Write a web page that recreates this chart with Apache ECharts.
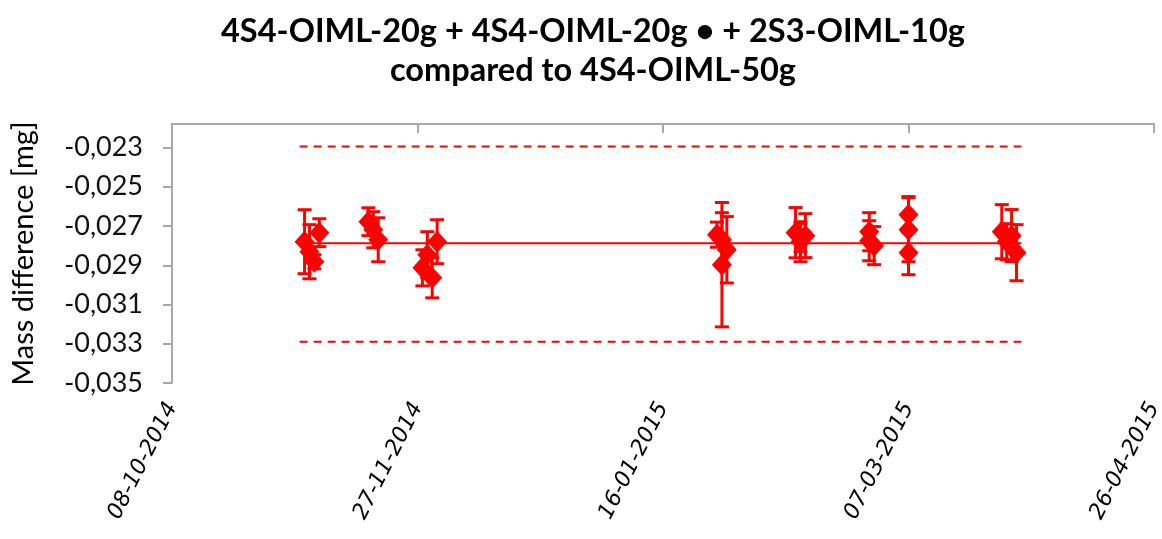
<!DOCTYPE html>
<html><head><meta charset="utf-8">
<script src="https://cdn.jsdelivr.net/npm/echarts@6/dist/echarts.min.js"></script>
<style>html,body{margin:0;padding:0;background:#fff}#c{width:1162px;height:539px}</style>
</head><body><div id="c"></div>
<script>
// ---- data ----
const axisStart = '2014-10-08';
const xTickLabels = ['08-10-2014', '27-11-2014', '16-01-2015', '07-03-2015', '26-04-2015'];
const yTickValues = [-0.035, -0.033, -0.031, -0.029, -0.027, -0.025, -0.023];

const measDates = [
  '2014-11-04', '2014-11-07', '2014-11-05', '2014-11-06',
  '2014-11-17', '2014-11-18', '2014-11-19',
  '2014-12-01', '2014-11-29', '2014-11-28', '2014-11-30',
  '2015-01-27', '2015-01-29', '2015-01-28', '2015-01-28',
  '2015-02-12', '2015-02-13', '2015-02-14', '2015-02-13',
  '2015-02-27', '2015-02-27', '2015-02-28',
  '2015-03-07', '2015-03-07', '2015-03-07',
  '2015-03-26', '2015-03-28', '2015-03-29', '2015-03-27'
];
const measValues = [
  -0.02780, -0.02734, -0.02831, -0.02882,
  -0.02678, -0.02719, -0.02770,
  -0.02780, -0.02846, -0.02913, -0.02964,
  -0.02744, -0.02821, -0.02897, -0.02770,
  -0.02734, -0.02780, -0.02749, -0.02760,
  -0.02729, -0.02775, -0.02800,
  -0.02642, -0.02719, -0.02836,
  -0.02729, -0.02749, -0.02836, -0.02780
];
const measErrors = [
  0.00163, 0.00071, 0.00138, 0.00036,
  0.00071, 0.00092, 0.00112,
  0.00112, 0.00117, 0.00092, 0.00102,
  0.00064, 0.00169, 0.00317, 0.00138,
  0.00128, 0.00102, 0.00112, 0.00071,
  0.00097, 0.00102, 0.00097,
  0.00092, 0.00163, 0.00112,
  0.00138, 0.00133, 0.00143, 0.00092
];
const refDates = ['2014-11-03', '2015-03-30'];
const meanValue = -0.02788;
const upperLimit = -0.02295;
const lowerLimit = -0.03290;

// ---- helpers ----
function dayOffset(s) {
  return (Date.parse(s + 'T00:00:00Z') - Date.parse(axisStart + 'T00:00:00Z')) / 86400000;
}
const RED = '#ff0000';
const pts = measDates.map((d, i) => [dayOffset(d), measValues[i]]);
const bars = measDates.map((d, i) => [dayOffset(d), measValues[i] - measErrors[i], measValues[i] + measErrors[i]]);
const refLine = v => refDates.map(d => [dayOffset(d), v]);

const chart = echarts.init(document.getElementById('c'), null, {renderer: 'canvas'});
chart.setOption({
  animation: false,
  backgroundColor: '#fff',
  title: {
    text: '4S4-OIML-20g + 4S4-OIML-20g \u2022 + 2S3-OIML-10g\ncompared to 4S4-OIML-50g',
    left: 588, top: 7, textAlign: 'center',
    textStyle: {fontFamily: 'Lato', fontWeight: 'bold', fontSize: 32.5, lineHeight: 39, color: '#000'}
  },
  grid: {left: 172, right: 8, top: 124, bottom: 156, containLabel: false, outerBoundsMode: 'none'},
  xAxis: [{
    type: 'value', position: 'top', min: 0, max: 200, interval: 50,
    axisLine: {show: true, lineStyle: {color: '#a8a8a8', width: 2}},
    axisTick: {show: true, inside: true, length: 9, lineStyle: {color: '#a8a8a8', width: 2}},
    axisLabel: {show: false}, splitLine: {show: false}
  }, {
    type: 'value', position: 'bottom', min: 0, max: 200, interval: 50,
    axisLine: {show: false}, axisTick: {show: false}, splitLine: {show: false},
    axisLabel: {
      show: true, rotate: 63, margin: 21, verticalAlign: 'middle', padding: [12, 0, 0, 0],
      fontFamily: 'DejaVu Sans', fontStyle: 'italic', fontSize: 22, color: '#000',
      showMinLabel: true, showMaxLabel: true, hideOverlap: false,
      formatter: v => xTickLabels[Math.round(v / 50)] || ''
    }
  }],
  yAxis: {
    type: 'value', min: -0.035, max: -0.0218,
    axisLine: {show: true, lineStyle: {color: '#a8a8a8', width: 2}},
    axisTick: {show: true, inside: false, length: 9, customValues: yTickValues, lineStyle: {color: '#a8a8a8', width: 2}},
    axisLabel: {
      show: true, margin: 29, customValues: yTickValues,
      fontFamily: 'Lato', fontSize: 27, color: '#111',
      formatter: v => v.toFixed(3).replace('.', ',')
    },
    splitLine: {show: false},
    name: 'Mass difference [mg]', nameLocation: 'middle', nameRotate: 90, nameGap: 134,
    nameTextStyle: {fontFamily: 'Lato', fontSize: 29, color: '#000'}
  },
  series: [
    {type: 'line', data: refLine(upperLimit), showSymbol: false, xAxisIndex: 0,
     lineStyle: {color: RED, width: 2, type: [8, 6]}, z: 1},
    {type: 'line', data: refLine(lowerLimit), showSymbol: false, xAxisIndex: 0,
     lineStyle: {color: RED, width: 2, type: [8, 6]}, z: 1},
    {type: 'line', data: refLine(meanValue), showSymbol: false, xAxisIndex: 0,
     lineStyle: {color: RED, width: 2}, z: 1},
    {type: 'custom', xAxisIndex: 0, data: bars, encode: {x: 0, y: [1, 2]}, z: 2,
     renderItem: function (params, api) {
       const x = api.value(0), lo = api.value(1), hi = api.value(2);
       const p1 = api.coord([x, hi]), p2 = api.coord([x, lo]);
       const hw = 7;
       const st = {stroke: RED, lineWidth: 3};
       return {type: 'group', children: [
         {type: 'line', shape: {x1: p1[0], y1: p1[1], x2: p2[0], y2: p2[1]}, style: st},
         {type: 'line', shape: {x1: p1[0] - hw, y1: p1[1], x2: p1[0] + hw, y2: p1[1]}, style: st},
         {type: 'line', shape: {x1: p2[0] - hw, y1: p2[1], x2: p2[0] + hw, y2: p2[1]}, style: st}
       ]};
     }},
    {type: 'scatter', xAxisIndex: 0, data: pts, symbol: 'diamond', symbolSize: [20, 22],
     itemStyle: {color: RED, opacity: 1}, z: 3}
  ]
});
</script>
</body></html>
